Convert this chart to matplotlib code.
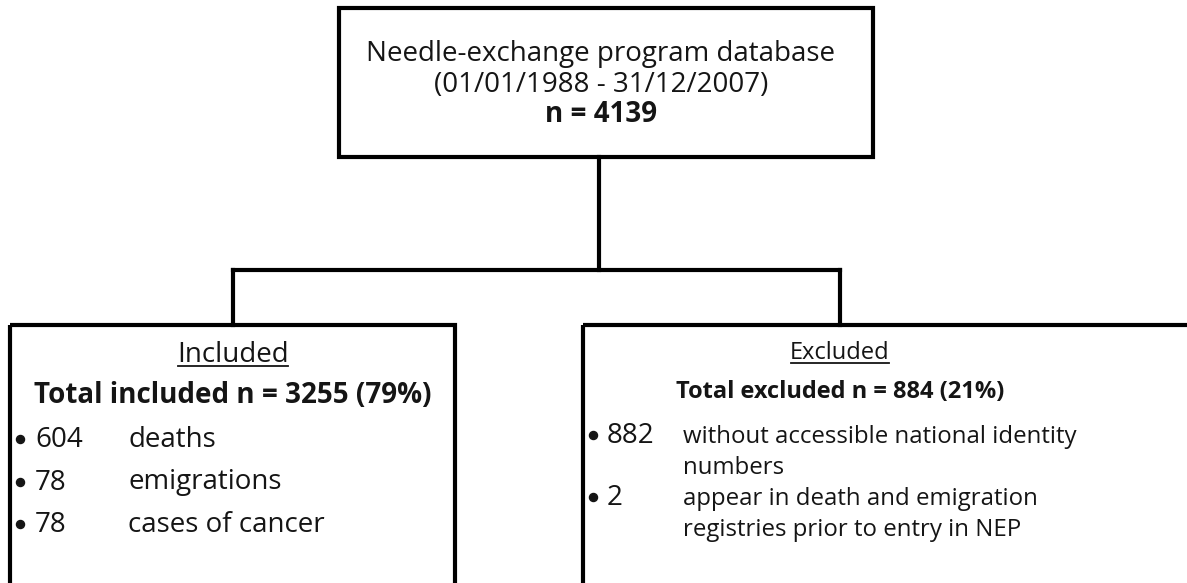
import matplotlib
matplotlib.use("Agg")
import matplotlib.pyplot as plt
from matplotlib.patches import Rectangle

# flowchart content
source_lines = ["Needle-exchange program database", "(01/01/1988 - 31/12/2007)"]
n_total = 4139
n_included = 3255
n_excluded = 884
pct_included = 79
pct_excluded = 21
included_counts = [604, 78, 78]
included_labels = [["deaths"], ["emigrations"], ["cases of cancer"]]
excluded_counts = [882, 2]
excluded_labels = [["without accessible national identity", "numbers"],
                   ["appear in death and emigration", "registries prior to entry in NEP"]]

W, H = 1187, 583
plt.rcParams['font.family'] = ['Open Sans', 'DejaVu Sans']
fig = plt.figure(figsize=(W / 100, H / 100), dpi=100)
ax = fig.add_axes([0, 0, 1, 1])
ax.set_xlim(0, W)
ax.set_ylim(H, 0)
ax.axis('off')

lw = 3.0
ink = '#151515'
fs_big = 20
fs_small = 17

# boxes
ax.add_patch(Rectangle((339, 8), 534, 149, fill=False, lw=lw, ec='black'))
ax.add_patch(Rectangle((10, 325), 445, 260, fill=False, lw=lw, ec='black'))
ax.add_patch(Rectangle((583, 325), 620, 260, fill=False, lw=lw, ec='black'))

# connectors
ax.plot([599, 599], [157, 270], color='black', lw=lw, solid_capstyle='projecting')
ax.plot([233, 840], [270, 270], color='black', lw=lw, solid_capstyle='projecting')
ax.plot([233, 233], [270, 325], color='black', lw=lw)
ax.plot([840, 840], [270, 325], color='black', lw=lw)

# top box text
for i, line in enumerate(source_lines):
    ax.text(601, 61 + 31 * i, line, ha='center', va='baseline', fontsize=fs_big, color=ink)
ax.text(601, 122, "n = %d" % n_total, ha='center', va='baseline', fontsize=fs_big,
        fontweight='bold', color=ink)

# headers (underlined later)
headers = [
    ax.text(233, 362, "Included", ha='center', va='baseline', fontsize=fs_big, color=ink),
    ax.text(840, 359, "Excluded", ha='center', va='baseline', fontsize=fs_small, color=ink),
]

ax.text(233, 403, "Total included n = %d (%d%%)" % (n_included, pct_included),
        ha='center', va='baseline', fontsize=fs_big, fontweight='bold', color=ink)
ax.text(840, 398, "Total excluded n = %d (%d%%)" % (n_excluded, pct_excluded),
        ha='center', va='baseline', fontsize=fs_small, fontweight='bold', color=ink)

# included list
for i, (c, lab) in enumerate(zip(included_counts, included_labels)):
    y = 447 + 42.5 * i
    ax.plot(20, y - 8, 'o', ms=5.8, color=ink)
    ax.text(35, y, "%d" % c, ha='left', va='baseline', fontsize=fs_big, color=ink)
    ax.text(128, y, lab[0], ha='left', va='baseline', fontsize=fs_big, color=ink)

# excluded list
row = 0
for c, lab in zip(excluded_counts, excluded_labels):
    y = 443 + 31 * row
    ax.plot(593, y - 8, 'o', ms=5.8, color=ink)
    ax.text(607, y, "%d" % c, ha='left', va='baseline', fontsize=fs_big, color=ink)
    for line in lab:
        ax.text(683, 443 + 31 * row, line, ha='left', va='baseline', fontsize=fs_small + 0.3,
                color=ink)
        row += 1

# underline headers
fig.canvas.draw()
r = fig.canvas.get_renderer()
inv = ax.transData.inverted()
for t in headers:
    bb = t.get_window_extent(r)
    (x0, _), (x1, _) = inv.transform([[bb.x0, bb.y0], [bb.x1, bb.y1]])
    yb = t.get_position()[1] + 4
    ax.plot([x0 + 1, x1 - 1], [yb, yb], color=ink, lw=1.3)

fig.savefig("out.png", dpi=100)
